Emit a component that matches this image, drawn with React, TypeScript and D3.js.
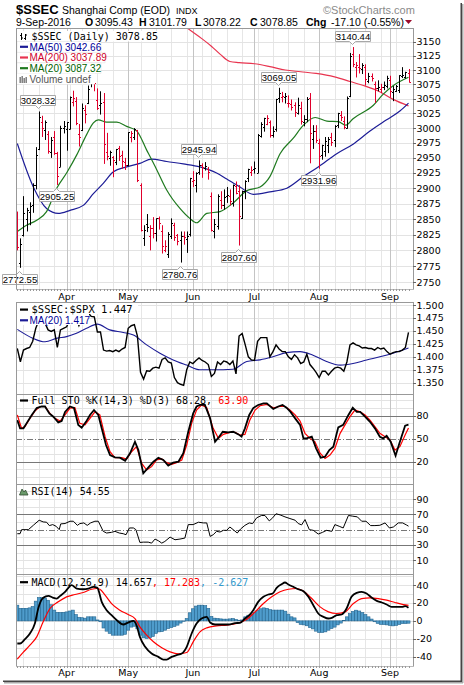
import React from 'react';
import * as d3 from 'd3';

// ---------------- DATA ----------------
const tradingMonths: number[] = [3, 4, 5, 6, 7, 8, 9];
const tradingDaysByMonth: number[][] = [
  [10, 11, 14, 15, 16, 17, 18, 21, 22, 23, 24, 25, 28, 29, 30, 31],
  [1, 5, 6, 7, 8, 11, 12, 13, 14, 15, 18, 19, 20, 21, 22, 25, 26, 27, 28, 29],
  [3, 4, 5, 6, 9, 10, 11, 12, 13, 16, 17, 18, 19, 20, 23, 24, 25, 26, 27, 30, 31],
  [1, 2, 3, 6, 7, 8, 13, 14, 15, 16, 17, 20, 21, 22, 23, 24, 27, 28, 29, 30],
  [1, 4, 5, 6, 7, 8, 11, 12, 13, 14, 15, 18, 19, 20, 21, 22, 25, 26, 27, 28, 29],
  [1, 2, 3, 4, 5, 8, 9, 10, 11, 12, 15, 16, 17, 18, 19, 22, 23, 24, 25, 26, 29, 30, 31],
  [1, 2, 5, 6, 7, 8, 9],
];
const monthNames = ['Jan', 'Feb', 'Mar', 'Apr', 'May', 'Jun', 'Jul', 'Aug', 'Sep', 'Oct', 'Nov', 'Dec'];

const prevClose = 2862.56;
const opens = [
  2851, 2780, 2825, 2850, 2862, 2873, 2905, 2965, 3010, 2996,
  2990, 2960, 2985, 2958, 2935, 3001, 2999, 2998, 3044, 3047,
  2990, 2997, 3030, 3043, 3080, 3077, 3048, 3040, 3045, 2960,
  2950, 2952, 2943, 2966, 2955, 2944, 2939, 2985, 2985, 2996,
  2905, 2820, 2842, 2822, 2836, 2827, 2851, 2831, 2800, 2795,
  2822, 2841, 2824, 2816, 2822, 2818, 2826, 2912, 2905, 2927,
  2938, 2934, 2931, 2887, 2830, 2838, 2881, 2872, 2887, 2887,
  2876, 2903, 2895, 2851, 2895, 2917, 2926, 2932, 2925, 2986,
  3002, 3007, 3010, 2988, 2998, 3052, 3054, 3053, 3043, 3041,
  3040, 3025, 3035, 3010, 3016, 3052, 2982, 2995, 2975, 2955,
  2962, 2972, 2985, 2980, 3005, 3023, 3012, 3000, 3055, 3128,
  3105, 3106, 3102, 3105, 3080, 3090, 3075, 3068, 3067, 3070,
  3072, 3083, 3061, 3064, 3065, 3089, 3088, 3095.43,
];
const highs = [
  2862, 2819, 2887, 2868, 2877, 2908, 2968, 3028.32, 3021, 3013,
  2995, 2985, 2995, 2960, 3004, 3012, 3010, 3054, 3064, 3053,
  3007, 3042, 3039, 3073, 3087, 3090, 3068, 3063, 3060, 2992,
  2962, 2953, 2965, 2970, 2962, 2950, 2993, 2995, 3000, 2997,
  2908, 2840, 2858, 2840, 2853, 2851, 2854, 2840, 2816, 2829,
  2851, 2844, 2826, 2830, 2830, 2830, 2917, 2928, 2926, 2945.94,
  2941, 2943, 2935, 2893, 2850, 2890, 2895, 2898, 2902, 2898,
  2906, 2911, 2905, 2896, 2913, 2932, 2936, 2944, 2990, 3010,
  3017.5, 3022, 3013, 3003, 3050, 3069.05, 3062, 3060, 3056, 3049,
  3044, 3052, 3045, 3022, 3053, 3060, 3005, 3005, 2982, 2972,
  2985, 2985, 2992, 3005, 3026, 3029, 3020, 3054, 3130, 3140.44,
  3114, 3128, 3112, 3110, 3095, 3094, 3080, 3082, 3076, 3080,
  3090, 3090, 3072, 3074, 3091, 3105, 3097, 3101.79,
];
const lows = [
  2800, 2772.55, 2822, 2830, 2840, 2860, 2898, 2963, 2985, 2980,
  2957, 2950, 2955, 2905.25, 2935, 2991, 2962, 2998, 3037, 3005,
  2969, 2995, 3008, 3041, 3070, 3063, 3031, 3023, 2940, 2946,
  2937, 2918, 2938, 2945, 2932, 2930, 2936, 2976, 2980, 2910,
  2830, 2807, 2829, 2800, 2819, 2814, 2833, 2795, 2797, 2788,
  2818, 2815, 2808, 2780.76, 2809, 2796, 2822, 2902, 2893, 2922,
  2917, 2929, 2914, 2830, 2819, 2833, 2866, 2865, 2876, 2872,
  2870, 2890, 2807.6, 2850, 2882, 2910, 2920, 2924, 2925, 2984,
  2994, 3005, 2984, 2984, 2994, 3043, 3044, 3042, 3035, 3030,
  3019, 3023, 3006, 3003, 3010, 2941, 2965, 2975, 2931.96, 2947,
  2952, 2958, 2970, 2968, 3000, 3012, 2998, 2999, 3053, 3105,
  3087, 3094, 3093, 3073, 3077, 3080, 3043, 3063, 3060, 3065,
  3068, 3052, 3046, 3062, 3060, 3086, 3085, 3078.22,
];
const closes = [
  2804.73, 2810.31, 2859.5, 2864.37, 2870.43, 2904.83, 2955.15, 3018.8, 2999.36, 3009.96,
  2960.97, 2979.43, 2957.82, 2919.83, 3000.65, 3003.92, 3009.53, 3053.07, 3050.59, 3008.42,
  2984.96, 3033.96, 3023.65, 3066.64, 3082.36, 3078.12, 3033.66, 3042.82, 2972.58, 2952.89,
  2959.24, 2946.67, 2964.7, 2953.67, 2945.59, 2938.32, 2992.64, 2991.27, 2997.84, 2913.25,
  2832.11, 2832.59, 2837.04, 2835.86, 2827.11, 2850.86, 2843.68, 2807.51, 2806.91, 2825.48,
  2843.65, 2821.67, 2815.09, 2822.44, 2821.05, 2822.45, 2916.62, 2913.51, 2925.23, 2938.68,
  2934.1, 2936.04, 2927.16, 2833.07, 2842.19, 2887.21, 2872.82, 2885.11, 2888.81, 2878.56,
  2905.55, 2891.96, 2854.29, 2895.7, 2912.56, 2931.59, 2929.61, 2932.48, 2988.6, 3006.39,
  3017.29, 3016.85, 2988.09, 2994.92, 3049.38, 3060.69, 3054.02, 3054.3, 3043.56, 3036.6,
  3027.9, 3039.0, 3012.82, 3015.83, 3050.17, 2992.0, 2994.31, 2979.34, 2953.39, 2970.95,
  2978.46, 2982.43, 2976.7, 3004.28, 3025.68, 3018.75, 3002.64, 3050.67, 3125.2, 3110.04,
  3109.04, 3104.11, 3108.1, 3084.81, 3089.71, 3085.89, 3068.33, 3070.31, 3070.03, 3074.68,
  3085.49, 3063.31, 3067.35, 3072.1, 3090.71, 3091.93, 3095.95, 3078.85,
];

// moving averages: [day index, value]
const ma20Pts: [number, number][] = [
  [0, 2830], [3, 2840], [6.3, 2848], [9.5, 2862], [12.8, 2900], [16, 2925], [19.3, 2955], [22.5, 2989],
  [24.7, 3009], [26.3, 3014], [29, 3010], [32.3, 3010], [35.5, 3003], [38.8, 2995], [42, 2963], [45.3, 2930],
  [48.5, 2897], [52.8, 2867], [56, 2851], [58.2, 2844], [61.5, 2859], [65.8, 2862], [70.1, 2876], [74.5, 2896],
  [78.8, 2902], [82, 2919], [85.3, 2957], [89.6, 2983], [92.9, 3005], [96.7, 3018], [100.5, 3012], [104.2, 3011],
  [106.7, 3005], [109, 3016], [115.6, 3039], [118.8, 3058], [122.1, 3073], [127, 3087.32],
];
const ma50Pts: [number, number][] = [
  [0, 2974], [5.2, 2902], [9.5, 2867], [13.3, 2859], [17.1, 2864], [21.4, 2872], [24.7, 2891], [27.9, 2908],
  [31.2, 2927], [35.5, 2935], [39.8, 2941], [43.6, 2948], [48.5, 2944], [53.9, 2940], [59.3, 2935], [64.7, 2925],
  [68, 2915], [72.3, 2902], [76.6, 2890], [82, 2894], [87.5, 2900], [92.9, 2919], [97.7, 2935], [103.7, 2957],
  [109, 2973], [114.5, 2995], [119.9, 3014], [124.2, 3029], [127, 3042.66],
];
const ma200Pts: [number, number][] = [
  [48, 3205], [52, 3188], [55.5, 3173], [60, 3155], [63, 3142], [66, 3127], [69, 3115], [72, 3113],
  [77, 3111], [82, 3106], [87, 3100], [92, 3097], [97, 3094], [103, 3088], [108, 3080], [113, 3072],
  [117, 3064], [122, 3049], [127, 3037.89],
];

// $SSEC:$SPX ratio, one per day
const ratio = [
  1.416, 1.3905, 1.413, 1.416, 1.418, 1.43, 1.455, 1.47, 1.47, 1.465,
  1.452, 1.449, 1.452, 1.418, 1.452, 1.455, 1.458, 1.47, 1.48, 1.475,
  1.46, 1.475, 1.48, 1.485, 1.478, 1.477, 1.448, 1.448, 1.413, 1.411,
  1.412, 1.41, 1.413, 1.41, 1.415, 1.418, 1.455, 1.46, 1.462, 1.44,
  1.37, 1.357, 1.373, 1.372, 1.378, 1.38, 1.378, 1.395, 1.398, 1.39,
  1.388, 1.36, 1.35, 1.347, 1.345, 1.375, 1.39, 1.387, 1.393, 1.398,
  1.393, 1.39, 1.385, 1.362, 1.368, 1.39, 1.385, 1.392, 1.39, 1.385,
  1.392, 1.367, 1.44, 1.445, 1.423, 1.4, 1.394, 1.393, 1.43, 1.437,
  1.437, 1.437, 1.4, 1.41, 1.423, 1.415, 1.41, 1.41, 1.4, 1.395,
  1.404, 1.398, 1.387, 1.39, 1.405, 1.385, 1.378, 1.37, 1.36, 1.372,
  1.372, 1.365, 1.372, 1.378, 1.38, 1.378, 1.372, 1.39, 1.423, 1.427,
  1.423, 1.421, 1.417, 1.418, 1.416, 1.416, 1.413, 1.418, 1.415, 1.417,
  1.41, 1.405, 1.408, 1.41, 1.41, 1.413, 1.418, 1.447,
];
const ratioMa20Pts: [number, number][] = [
  [0, 1.453], [5, 1.436], [9, 1.429], [13, 1.436], [16, 1.439], [19, 1.445], [22.5, 1.455], [26, 1.463],
  [30, 1.452], [34.4, 1.447], [37.7, 1.442], [42, 1.423], [46.3, 1.407], [50.6, 1.394], [55, 1.384], [59.3, 1.375],
  [63.6, 1.375], [70, 1.376], [74.5, 1.391], [78.8, 1.394], [83, 1.4], [87.4, 1.408], [91.8, 1.41], [96, 1.403],
  [100.4, 1.391], [104.8, 1.384], [109, 1.387], [113.4, 1.394], [117.7, 1.4], [122, 1.407], [127, 1.417],
];

const stoK: [number, number][] = [
  [0, 74.3], [0.9, 63.5], [2, 63.5], [3, 70], [4.7, 81], [6.3, 90], [7.9, 92], [9, 92], [10.4, 83], [11.7, 78.7],
  [13.3, 71.3], [14.4, 73], [15.5, 85], [17.1, 92], [18.4, 90], [19.8, 68], [20.9, 64.3], [22.3, 72], [23.6, 81],
  [24.9, 87.4], [26.3, 81], [27.4, 63.5], [28.8, 41.7], [30.1, 28.7], [31.7, 25.7], [33.3, 25.2], [35, 21.3],
  [36.6, 31], [38.2, 46], [39.3, 35.2], [40.9, 4.8], [42.5, 12.2], [44.2, 20], [45.8, 25.2], [47.4, 22.2],
  [49, 14.8], [50.6, 18.7], [52.3, 20], [53.9, 31], [55.5, 59], [57.1, 83], [58.2, 92], [59.3, 94], [60.9, 94],
  [62.6, 76.5], [64.2, 46], [65.3, 51.3], [66.7, 59], [68.5, 58.3], [70.1, 59], [71.8, 55.6], [72.8, 52.6],
  [73.9, 63.5], [75.3, 81], [76.6, 90], [78.2, 94], [79.9, 96], [81, 96], [83.1, 88.7], [84.7, 92], [86.1, 94],
  [87.4, 90.4], [88.7, 85], [90.2, 76.5], [91.8, 68], [92.9, 50.4], [93.9, 50.4], [95.6, 52.6], [97, 37.4],
  [98.5, 25.2], [99.9, 26.5], [101.3, 35.2], [102.6, 39.6], [104.2, 64.8], [105.8, 68], [107.5, 81], [108.9, 90.4],
  [110.2, 85], [111.3, 85], [112.9, 78.7], [114.5, 72], [116.1, 63.5], [117.7, 52.6], [118.8, 50.4], [119.9, 53.9],
  [121.2, 46], [122.8, 27.8], [124.2, 46], [125.9, 67], [127, 68.28],
];
const stoD: [number, number][] = [
  [0, 80.9], [1.4, 63.5], [2.5, 65.7], [4.1, 76.5], [5.7, 86], [7.4, 92], [9, 92], [10.6, 83], [12.2, 76.5],
  [13.9, 73], [15.5, 81], [17.1, 90], [18.7, 90.4], [20.3, 70], [22, 68], [23.6, 76.5], [25.2, 85], [26.8, 81],
  [28.5, 52.6], [30.1, 33], [31.7, 25.2], [33.9, 25.2], [35.5, 23.5], [37.1, 33], [38.7, 39.6], [40.4, 17.8],
  [42, 9.1], [43.6, 13.5], [45.2, 22.2], [46.9, 23.5], [48.5, 18.7], [50.1, 16.5], [51.7, 18.7], [53.4, 22.2],
  [55, 41.7], [56.6, 70], [58.2, 87.4], [59.8, 94], [61.5, 90.4], [63.6, 63.5], [65.3, 50.4], [66.9, 55.6],
  [69, 58.3], [70.7, 58.3], [72.3, 54.8], [73.9, 55.6], [75.5, 74.3], [77.2, 87.4], [78.8, 93], [81, 94.8],
  [83.1, 90.4], [85.3, 92], [86.9, 92], [88.5, 87.4], [90.2, 81], [91.8, 73], [93.4, 57], [95, 50.4], [96.6, 46],
  [98.3, 31], [99.9, 24.3], [101.5, 28.7], [103.1, 37.4], [104.8, 57], [106.4, 68], [108, 78.7], [109.6, 87.4],
  [111.3, 85], [112.9, 81], [114.5, 74.3], [116.1, 65.7], [117.7, 57], [119.4, 52.6], [121, 48.3], [122.6, 35.2],
  [124.2, 39.6], [125.9, 54.8], [127, 63.9],
];

const rsi: [number, number][] = [
  [0, 44.7], [0.9, 44.7], [1.4, 50], [3.6, 50], [5.2, 55.7], [7.1, 62.3], [8.4, 60.1], [9.5, 59.7], [10.4, 55.3],
  [11.5, 56.6], [12.6, 54.4], [13.6, 50], [14.1, 57.5], [15.5, 58], [17.1, 61], [18.2, 61], [19.5, 55.6],
  [20.3, 57.9], [21.6, 58.8], [22.7, 55.6], [23.8, 58.8], [25.2, 61], [26.3, 61], [27.9, 47.8], [29, 45.6],
  [30.6, 46.5], [31.7, 47.8], [33.1, 45.6], [34.4, 44.7], [35.3, 43.4], [36.4, 52.2], [37.7, 52.2], [38.5, 50],
  [39.8, 33.3], [40.9, 33.7], [42.5, 33.7], [43.6, 32.4], [44.7, 37.7], [45.8, 35.5], [46.9, 32.4], [47.9, 34.6],
  [49.6, 40.3], [51.2, 36.8], [52.8, 37.7], [54.4, 39], [55.5, 56.6], [57.1, 56.6], [58.8, 59.7], [60.4, 58.8],
  [61.5, 58.8], [62.6, 41.2], [63.6, 43.4], [64.7, 47.8], [65.8, 46.9], [66.9, 49.1], [68, 49.1], [69, 53.5],
  [70.1, 50], [71.4, 45.6], [72.5, 50.9], [73.9, 55.6], [75.3, 58.8], [76.4, 57.9], [77.7, 65.4], [79.3, 68.5],
  [80.4, 68.5], [81.8, 61.4], [82.9, 65.4], [84, 70.7], [85.3, 69.3], [86.9, 66.7], [88.5, 64.5], [90.2, 62.3],
  [91.2, 58], [92.3, 56.2], [93.4, 63.2], [94.8, 50], [96.1, 49.1], [97.7, 44.3], [99.1, 46.5], [100.4, 49.1],
  [102.1, 47.8], [103.1, 56.6], [104.5, 54.4], [105.8, 52.2], [107.5, 68.5], [108.9, 67.6], [110.4, 66.7],
  [111.8, 61], [113.2, 61], [114.7, 55.3], [116.1, 55.3], [117.7, 55.7], [119.4, 58.8], [120.8, 52.2],
  [122.1, 53.5], [123.7, 58.8], [125.1, 58.8], [126.4, 56], [127, 54.55],
];

const macdLine: [number, number][] = [
  [0, -25.3], [0.9, -25.3], [2.5, -20.5], [4.1, -14.1], [5.7, -3], [6.8, 13.8], [8.4, 25.7], [10.1, 27.9],
  [11.5, 26], [12.8, 24.9], [13.9, 27.9], [15.5, 32.4], [16.6, 36.8], [17.6, 39.8], [19.3, 36.1], [21.4, 35.3],
  [23.1, 36.1], [24.7, 38], [26, 36.8], [27.4, 21.2], [29, 11.9], [30.6, 6.3], [32.3, 0.7], [34.4, -4.1],
  [36, -1.9], [37.7, 0], [38.7, -4.8], [39.8, -17.9], [41.5, -29], [43.6, -36.5], [45.8, -40.2], [47.4, -43.2],
  [48.5, -43.2], [50.1, -40.2], [51.7, -38.3], [53.4, -36.5], [55, -29], [56.6, -14.1], [58.2, -3], [59.8, 2.6],
  [61.5, 4.5], [62.6, -1.9], [64.2, -4.1], [66.3, -4.1], [68.5, -4.1], [70.7, -2.6], [72.3, -2.2], [73.9, 2.6],
  [75.3, 6.3], [76.6, 11.9], [78.2, 21.2], [79.9, 26.8], [81.5, 29.4], [82.9, 30.5], [84.2, 36.8], [85.8, 40.9],
  [86.9, 42.8], [88, 40.6], [89.6, 38], [91.2, 35.3], [92.9, 33.1], [94.5, 26.8], [96.1, 17.5], [97.7, 8.2],
  [99.4, 4.5], [101, 2.6], [102.1, 3.3], [103.7, 6.3], [105.3, 7.1], [106.9, 13.8], [108.5, 26.8], [110.2, 31.3],
  [111.8, 32.4], [113.4, 30.5], [115, 26], [116.7, 22.3], [118.3, 20.5], [119.9, 18.2], [121.5, 15.6],
  [123.2, 15.6], [124.8, 15.6], [125.9, 16.4], [127, 14.657],
];
const macdSignal: [number, number][] = [
  [0, -42.8], [1.9, -35.3], [4.1, -27.2], [6.3, -17.9], [8.4, -1.1], [10.6, 13.8], [13.3, 21.2], [16, 26.8],
  [18.7, 29.4], [21.4, 31.6], [24.1, 35.3], [25.8, 36.1], [26.8, 35.3], [28.5, 28.7], [30.6, 19.3], [33.3, 11.9],
  [36, 7.1], [38.2, 2.6], [39.8, -6.7], [42, -16], [44.2, -23.4], [46.9, -30.1], [49.6, -34.6], [52.3, -36.8],
  [55, -35.3], [57.1, -23.4], [59.3, -12.3], [61.5, -7.8], [64.7, -5.6], [68, -4.8], [71.2, -3], [74.5, 1.9],
  [77.2, 10], [79.9, 19.3], [82.6, 26.8], [85.3, 32.4], [88, 35.3], [90.7, 36.1], [92.9, 33.1], [95.6, 24.9],
  [98.3, 15.6], [101, 10], [103.7, 8.2], [106.4, 10], [109.1, 19.3], [111.8, 24.9], [114.5, 25.7], [117.2, 24.9],
  [119.9, 23.1], [122.6, 20.5], [125.3, 18.2], [127, 17.283],
];
const macdHist = [
  17.5, 14, 14, 14, 14.5, 16, 22, 26, 26, 25.5,
  23, 18, 12, 9.5, 9.3, 9.5, 10, 11, 12, 7,
  4, 3.5, 3, 4.5, 4.5, 4.5, 1, -1, -8, -11.5,
  -14, -16, -16, -16, -16, -15, -10.4, -7, -6, -9,
  -16, -19, -19.7, -19, -17.5, -14, -12.3, -12, -10.4, -8.6,
  -7.5, -6.3, -4.8, -2.5, -0.5, 2.6, 9, 13.5, 16.5, 17.5,
  17.5, 17, 14, 5, 3, 2.6, 2.2, 1.9, 1.9, 2.2,
  2.6, 1.5, 0.7, 1, 4.5, 6.3, 7, 9.5, 11.5, 13.5,
  14.5, 14, 12.5, 12, 12, 12, 12, 10.8, 7.5, 4.5,
  3.3, -2, -4, -4.5, -5.5, -7.5, -9, -11.5, -13, -13,
  -12.3, -10.4, -8.6, -7, -4.5, -2.5, 0.5, 4.5, 8, 10.5,
  11.9, 11, 9.3, 7, 4.5, 2, -1, -2.8, -4, -4.1,
  -4.5, -5, -5.6, -5, -4.1, -3, -3, -2.627,
];

const priceTicks = [2750, 2775, 2800, 2825, 2850, 2875, 2900, 2925, 2950, 2975, 3000, 3025, 3050, 3075, 3100, 3125, 3150];
const ratioTicks = [1.35, 1.375, 1.4, 1.425, 1.45, 1.475, 1.5];
const stoTicks = [20, 50, 80];
const rsiTicks = [10, 30, 50, 70, 90];
const macdTicks = [-40, -20, 0, 20, 40];

const annotIdx = [1, 7, 13, 53, 59, 72, 85, 98, 109];
const annotLabel = ['2772.55', '3028.32', '2905.25', '2780.76', '2945.94', '2807.60', '3069.05', '2931.96', '3140.44'];
const annotAbove = [false, true, false, false, true, false, true, false, true];

// ---------------- LAYOUT ----------------
const L = 16;
const R = 413;
const PRICE: [number, number] = [28, 289];
const RATIO: [number, number] = [302, 394];
const STO: [number, number] = [394, 484];
const RSIP: [number, number] = [484, 574];
const MACD: [number, number] = [574, 666];

const RED = '#e0002c';
const NAVY = '#1c1c96';
const GREEN = '#1f7a1f';
const MA200C = '#e8344f';
const SANS = 'DejaVu Sans, Verdana, sans-serif';
const MONO = 'DejaVu Sans Mono, monospace';
const ARIAL = 'Liberation Sans, Arial, sans-serif';

const dates: Date[] = [];
tradingMonths.forEach((m, k) => tradingDaysByMonth[k].forEach((d) => dates.push(new Date(2016, m - 1, d))));
const N = dates.length;

const monthStarts: number[] = [];
const weekStarts: number[] = [];
dates.forEach((d, i) => {
  if (i === 0) return;
  const p = dates[i - 1];
  if (d.getMonth() !== p.getMonth()) monthStarts.push(i);
  else if (d.getDay() < p.getDay() || (d.getTime() - p.getTime()) / 86400000 > 6) weekStarts.push(i);
});

const x = d3.scaleLinear().domain([0, N - 1]).range([17.3, 408.5]);
const yPrice = d3.scaleLog().domain([2739.6, 3174.4]).range([PRICE[1], PRICE[0]]);
const yRatio = d3.scaleLinear().domain([1.3282, 1.5058]).range([RATIO[1], RATIO[0]]);
const ySto = d3.scaleLinear().domain([-9.1, 108.3]).range([STO[1], STO[0]]);
const yRsi = d3.scaleLinear().domain([-7.9, 109.6]).range([RSIP[1], RSIP[0]]);
const yMacd = d3.scaleLinear().domain([-50.4, 52.3]).range([MACD[1], MACD[0]]);

const crisp = (v: number) => Math.round(v) + 0.5;

function Grid({ panel, hLines }: { panel: [number, number]; hLines: number[] }) {
  return (
    <g>
      {weekStarts.map((i) => (
        <line key={'w' + i} x1={crisp(x(i))} x2={crisp(x(i))} y1={panel[0]} y2={panel[1]} stroke="#e6e6e6" />
      ))}
      {hLines.map((y, k) => (
        <line key={'h' + k} x1={L} x2={R} y1={crisp(y)} y2={crisp(y)} stroke="#e3e3e3" />
      ))}
      {monthStarts.map((i) => (
        <line key={'m' + i} x1={crisp(x(i))} x2={crisp(x(i))} y1={panel[0]} y2={panel[1]} stroke="#c4c4c4" />
      ))}
    </g>
  );
}

function Frame({ panel, dottedBottom }: { panel: [number, number]; dottedBottom?: boolean }) {
  return (
    <g>
      <line x1={L + 0.5} x2={L + 0.5} y1={panel[0]} y2={panel[1]} stroke="#999" />
      <line x1={R + 0.5} x2={R + 0.5} y1={panel[0]} y2={panel[1]} stroke="#999" />
      <line x1={L} x2={R + 1} y1={panel[0] + 0.5} y2={panel[0] + 0.5} stroke="#999" />
      {dottedBottom ? (
        <g>
          <line x1={L} x2={R + 1} y1={panel[1] + 0.5} y2={panel[1] + 0.5} stroke="#bbb" />
          {d3.range(N).map((i) => (
            <line key={i} x1={crisp(x(i))} x2={crisp(x(i))} y1={panel[1]} y2={panel[1] + 2} stroke="#999" />
          ))}
        </g>
      ) : (
        <line x1={L} x2={R + 1} y1={panel[1] + 0.5} y2={panel[1] + 0.5} stroke="#999" />
      )}
    </g>
  );
}

function YAxis({ ticks, scale, fmt }: { ticks: number[]; scale: (v: number) => number; fmt: (v: number) => string }) {
  return (
    <g fontFamily={SANS} fontSize={9.5} fill="#000">
      {ticks.map((t) => (
        <g key={t}>
          <line x1={R} x2={R + 3} y1={crisp(scale(t))} y2={crisp(scale(t))} stroke="#666" />
          <text x={416.5} y={scale(t) + 3.5}>{fmt(t)}</text>
        </g>
      ))}
    </g>
  );
}

function MonthLabels({ y }: { y: number }) {
  return (
    <g fontFamily={SANS} fontSize={9.5} textAnchor="middle">
      {monthStarts.map((i) => (
        <text key={i} x={x(i)} y={y}>
          {monthNames[dates[i].getMonth()]}
        </text>
      ))}
    </g>
  );
}

function Dash({ x0, y, color, w = 2 }: { x0: number; y: number; color: string; w?: number }) {
  return <line x1={x0} x2={x0 + 8} y1={y} y2={y} stroke={color} strokeWidth={w} />;
}

export default function App() {
  const lineFn = (ys: (v: number) => number, curve: d3.CurveFactory = d3.curveLinear) =>
    d3
      .line<[number, number]>()
      .x((d) => x(d[0]))
      .y((d) => ys(d[1]))
      .curve(curve);

  const ratioPts: [number, number][] = ratio.map((v, i) => [i, v]);

  return (
    <svg
      width={464}
      height={685}
      style={{ position: 'absolute', left: 0, top: 0, background: '#fff' }}
      xmlns="http://www.w3.org/2000/svg"
    >
      <defs>
        {[['cPrice', PRICE], ['cRatio', RATIO], ['cSto', STO], ['cRsi', RSIP], ['cMacd', MACD]].map(([id, p]: any) => (
          <clipPath id={id} key={id}>
            <rect x={L + 1} y={p[0] + 1} width={R - L - 1} height={p[1] - p[0] - 1} />
          </clipPath>
        ))}
      </defs>
      <rect x={0} y={0} width={464} height={685} fill="#fff" />

      {/* ---------- HEADER ---------- */}
      <g fontFamily={ARIAL}>
        <text x={16} y={13.5} fontSize={13} fontWeight="bold">$SSEC</text>
        <text x={62} y={13.5} fontSize={10.5}>Shanghai Comp (EOD)</text>
        <text x={176} y={13.5} fontSize={9}>INDX</text>
        <text x={323} y={13.5} fontSize={11} fill="#8a8a8a">©StockCharts.com</text>
        <g fontSize={10.5}>
          <text x={16} y={26}>9-Sep-2016</text>
          <text x={85} y={26} fontWeight="bold">O</text>
          <text x={95} y={26}>3095.43</text>
          <text x={139} y={26} fontWeight="bold">H</text>
          <text x={149} y={26}>3101.79</text>
          <text x={195} y={26} fontWeight="bold">L</text>
          <text x={203} y={26}>3078.22</text>
          <text x={250} y={26} fontWeight="bold">C</text>
          <text x={260} y={26}>3078.85</text>
          <text x={306} y={26} fontWeight="bold">Chg</text>
          <text x={331} y={26}>-17.10 (-0.55%)</text>
        </g>
        <path d="M405,20 L412,20 L408.5,24 Z" fill="#9b0a2a" />
      </g>

      {/* ---------- PRICE PANEL ---------- */}
      <Grid panel={PRICE} hLines={priceTicks.map((t) => yPrice(t))} />
      <g clipPath="url(#cPrice)">
        <path d={lineFn(yPrice, d3.curveMonotoneX)(ma200Pts) || ''} fill="none" stroke={MA200C} strokeWidth={1.2} />
        <path d={lineFn(yPrice, d3.curveMonotoneX)(ma50Pts) || ''} fill="none" stroke={NAVY} strokeWidth={1.2} />
        <path d={lineFn(yPrice, d3.curveMonotoneX)(ma20Pts) || ''} fill="none" stroke={GREEN} strokeWidth={1.2} />
        {closes.map((c, i) => {
          const prev = i === 0 ? prevClose : closes[i - 1];
          const col = c < prev ? RED : '#000';
          const xi = crisp(x(i));
          return (
            <g key={i} stroke={col} strokeWidth={1}>
              <line x1={xi} x2={xi} y1={yPrice(highs[i])} y2={yPrice(lows[i])} />
              <line x1={xi - 1.5} x2={xi} y1={crisp(yPrice(opens[i]))} y2={crisp(yPrice(opens[i]))} />
              <line x1={xi} x2={xi + 1.5} y1={crisp(yPrice(c))} y2={crisp(yPrice(c))} />
            </g>
          );
        })}
      </g>
      {/* annotations */}
      <g fontFamily={ARIAL} fontSize={9.5}>
        {annotIdx.map((i, k) => {
          const cx = x(i) - 1;
          const w = 35;
          const h = 10;
          const above = annotAbove[k];
          const yv = above ? yPrice(highs[i]) : yPrice(lows[i]);
          const top = above ? Math.round(yv - 6 - h) + 0.5 : Math.round(yv + 6.5) + 0.5;
          const bot = top + h;
          const l = Math.round(cx - w / 2) + 0.5;
          const r = l + w;
          const px = Math.round(cx) + 0.5;
          const d = above
            ? `M${l},${top} L${r},${top} L${r},${bot} L${px + 3},${bot} L${px},${bot + 3} L${px - 3},${bot} L${l},${bot} Z`
            : `M${l},${top} L${px - 3},${top} L${px},${top - 3} L${px + 3},${top} L${r},${top} L${r},${bot} L${l},${bot} Z`;
          return (
            <g key={k}>
              <path d={d} fill="#fff" stroke="#a8a8a8" />
              <text x={(l + r) / 2} y={bot - 1.8} textAnchor="middle">{annotLabel[k]}</text>
            </g>
          );
        })}
      </g>
      {/* legend */}
      <g fontFamily={ARIAL} fontSize={10}>
        <rect x={17} y={31} width={142} height={10.5} fill="#fff" />
        <rect x={17} y={41.5} width={84} height={10.7} fill="#fff" stroke="#ddd" strokeWidth={0.5} />
        <rect x={17} y={52.2} width={88} height={10.7} fill="#fff" stroke="#ddd" strokeWidth={0.5} />
        <rect x={17} y={62.9} width={84} height={10.7} fill="#fff" stroke="#ddd" strokeWidth={0.5} />
        <rect x={17} y={73.6} width={78} height={10.7} fill="#fff" />
        <g stroke="#000" strokeWidth={1}>
          <line x1={21.5} x2={21.5} y1={33} y2={40} />
          <line x1={20} x2={21.5} y1={35.5} y2={35.5} />
          <line x1={21.5} x2={23} y1={38} y2={38} />
          <line x1={25.5} x2={25.5} y1={34} y2={40} />
          <line x1={24} x2={25.5} y1={38.5} y2={38.5} />
          <line x1={25.5} x2={27} y1={35} y2={35} />
        </g>
        <text x={31.5} y={40} fontFamily={MONO}>$SSEC (Daily) 3078.85</text>
        <Dash x0={20} y={46.8} color={NAVY} w={2.2} />
        <text x={29.5} y={50.5} fill="#000099">MA(50) 3042.66</text>
        <Dash x0={20} y={57.5} color={MA200C} w={2.2} />
        <text x={29.5} y={61.2} fill="#d0002a">MA(200) 3037.89</text>
        <Dash x0={20} y={68.2} color={GREEN} w={2.2} />
        <text x={29.5} y={71.9} fill="#006400">MA(20) 3087.32</text>
        <g fill="#777">
          {[0, 2, 4, 6].map((k, j) => (
            <rect key={k} x={19.5 + k} y={[77, 76, 78, 77][j]} width={1.4} height={[6, 7, 5, 6][j]} />
          ))}
        </g>
        <text x={29.5} y={82.6} fill="#555">Volume undef</text>
      </g>
      <Frame panel={PRICE} dottedBottom />
      <YAxis ticks={priceTicks} scale={yPrice} fmt={(v) => String(v)} />
      <MonthLabels y={299.5} />

      {/* ---------- RATIO PANEL ---------- */}
      <Grid panel={RATIO} hLines={ratioTicks.map((t) => yRatio(t))} />
      <g clipPath="url(#cRatio)">
        <path d={lineFn(yRatio, d3.curveMonotoneX)(ratioMa20Pts) || ''} fill="none" stroke={NAVY} strokeWidth={1.1} />
        <path d={lineFn(yRatio)(ratioPts) || ''} fill="none" stroke="#000" strokeWidth={1.4} />
      </g>
      <g>
        <rect x={17} y={303} width={121} height={11} fill="#fff" />
        <rect x={17} y={314} width={72} height={11} fill="#fff" />
        <Dash x0={20} y={309.6} color="#000" w={2.2} />
        <text x={31.5} y={313.2} fontFamily={MONO} fontSize={10.5}>$SSEC:$SPX 1.447</text>
        <Dash x0={20} y={320.3} color={NAVY} w={2.2} />
        <text x={29.5} y={324} fontFamily={ARIAL} fontSize={10} fill="#000099">MA(20) 1.417</text>
      </g>
      <Frame panel={RATIO} />
      <YAxis ticks={ratioTicks} scale={yRatio} fmt={(v) => v.toFixed(3)} />

      {/* ---------- STO PANEL ---------- */}
      <Grid panel={STO} hLines={d3.range(0, 101, 10).filter((v) => ![20, 50, 80].includes(v)).map((v) => ySto(v))} />
      <line x1={L} x2={R} y1={crisp(ySto(80))} y2={crisp(ySto(80))} stroke="#777" />
      <line x1={L} x2={R} y1={crisp(ySto(20))} y2={crisp(ySto(20))} stroke="#777" />
      <line x1={L} x2={R} y1={crisp(ySto(50))} y2={crisp(ySto(50))} stroke="#777" strokeDasharray="6,2,1,2" />
      <g clipPath="url(#cSto)">
        <path d={lineFn(ySto)(stoD) || ''} fill="none" stroke="#ff0000" strokeWidth={1.2} />
        <path d={lineFn(ySto)(stoK) || ''} fill="none" stroke="#000" strokeWidth={1.8} />
      </g>
      <g fontFamily={MONO} fontSize={10}>
        <Dash x0={20} y={400.5} color="#000" w={2.2} />
        <text x={31.5} y={404.2}>
          Full STO %K(14,3) %D(3) 68.28, <tspan fill="#ff0000">63.90</tspan>
        </text>
      </g>
      <Frame panel={STO} />
      <YAxis ticks={stoTicks} scale={ySto} fmt={(v) => String(v)} />

      {/* ---------- RSI PANEL ---------- */}
      <Grid panel={RSIP} hLines={d3.range(0, 101, 10).filter((v) => ![30, 50, 70].includes(v)).map((v) => yRsi(v))} />
      <line x1={L} x2={R} y1={crisp(yRsi(70))} y2={crisp(yRsi(70))} stroke="#777" />
      <line x1={L} x2={R} y1={crisp(yRsi(30))} y2={crisp(yRsi(30))} stroke="#777" />
      <line x1={L} x2={R} y1={crisp(yRsi(50))} y2={crisp(yRsi(50))} stroke="#777" strokeDasharray="6,2,1,2" />
      <g clipPath="url(#cRsi)">
        <path d={lineFn(yRsi)(rsi) || ''} fill="none" stroke="#000" strokeWidth={1} />
      </g>
      <g fontFamily={MONO} fontSize={10}>
        <path d="M19.5,495 L22,489 L24,492 L25.5,490 L28,495 Z" fill="#6a9a6a" stroke="#2d4a2d" strokeWidth={0.8} />
        <text x={31.5} y={495.2}>RSI(14) 54.55</text>
      </g>
      <Frame panel={RSIP} />
      <YAxis ticks={rsiTicks} scale={yRsi} fmt={(v) => String(v)} />

      {/* ---------- MACD PANEL ---------- */}
      <Grid panel={MACD} hLines={d3.range(-50, 51, 10).map((v) => yMacd(v))} />
      <g clipPath="url(#cMacd)">
        {macdHist.map((v, i) => {
          const y0 = yMacd(0);
          const y1 = yMacd(v);
          return (
            <rect
              key={i}
              x={x(i) - 1.54}
              y={Math.min(y0, y1)}
              width={3.08}
              height={Math.abs(y1 - y0)}
              fill="#4f9ccb"
              stroke="#24658f"
              strokeWidth={0.6}
            />
          );
        })}
        <path d={lineFn(yMacd, d3.curveMonotoneX)(macdSignal) || ''} fill="none" stroke="#ff0000" strokeWidth={1.2} />
        <path d={lineFn(yMacd, d3.curveMonotoneX)(macdLine) || ''} fill="none" stroke="#000" strokeWidth={1.8} />
      </g>
      <g fontFamily={MONO} fontSize={10}>
        <Dash x0={20} y={582.2} color="#000" w={2.2} />
        <text x={31.5} y={585.9}>
          MACD(12,26,9) 14.657<tspan fill="#ff0000">, 17.283</tspan>
          <tspan fill="#3399cc">, -2.627</tspan>
        </text>
      </g>
      <Frame panel={MACD} dottedBottom />
      <YAxis ticks={macdTicks} scale={yMacd} fmt={(v) => String(v)} />
      <MonthLabels y={676} />

      {/* ---------- OUTER SHADOW ---------- */}
      <rect x={460.5} y={3} width={1.5} height={679} fill="#444" />
      <rect x={462} y={4} width={1.5} height={679} fill="#aaa" />
      <rect x={3} y={680.5} width={459} height={1.5} fill="#444" />
      <rect x={4} y={682} width={459} height={1.5} fill="#aaa" />
    </svg>
  );
}
